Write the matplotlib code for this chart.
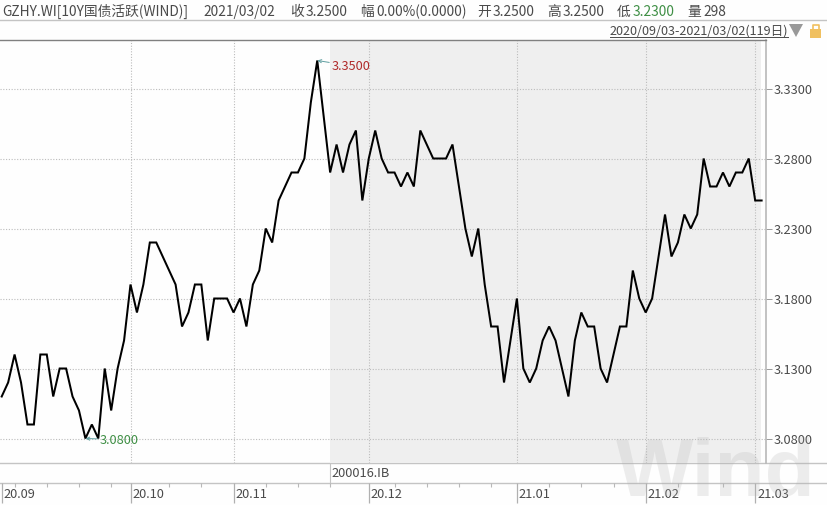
import matplotlib
matplotlib.use('Agg')
import matplotlib.pyplot as plt
from matplotlib.patches import Polygon, Rectangle

plt.rcParams['font.family'] = ['Noto Sans CJK SC', 'DejaVu Sans']

# daily close
values = [3.11, 3.12, 3.14, 3.12, 3.09, 3.09, 3.14, 3.14, 3.11, 3.13,
          3.13, 3.11, 3.10, 3.08, 3.09, 3.08, 3.13, 3.10, 3.13, 3.15,
          3.19, 3.17, 3.19, 3.22, 3.22, 3.21, 3.20, 3.19, 3.16, 3.17,
          3.19, 3.19, 3.15, 3.18, 3.18, 3.18, 3.17, 3.18, 3.16, 3.19,
          3.20, 3.23, 3.22, 3.25, 3.26, 3.27, 3.27, 3.28, 3.32, 3.35,
          3.31, 3.27, 3.29, 3.27, 3.29, 3.30, 3.25, 3.28, 3.30, 3.28,
          3.27, 3.27, 3.26, 3.27, 3.26, 3.30, 3.29, 3.28, 3.28, 3.28,
          3.29, 3.26, 3.23, 3.21, 3.23, 3.19, 3.16, 3.16, 3.12, 3.15,
          3.18, 3.13, 3.12, 3.13, 3.15, 3.16, 3.15, 3.13, 3.11, 3.15,
          3.17, 3.16, 3.16, 3.13, 3.12, 3.14, 3.16, 3.16, 3.20, 3.18,
          3.17, 3.18, 3.21, 3.24, 3.21, 3.22, 3.24, 3.23, 3.24, 3.28,
          3.26, 3.26, 3.27, 3.26, 3.27, 3.27, 3.28, 3.25, 3.25]
y_ticks = [3.08, 3.13, 3.18, 3.23, 3.28, 3.33]
month_idx = [0, 20, 36, 57, 80, 100, 117]
month_labels = ['20.09', '20.10', '20.11', '20.12', '21.01', '21.02', '21.03']
minor_idx = [2, 7, 12, 17, 26, 31, 41, 46, 51, 61, 66, 71, 76, 85, 90, 95, 105, 112]
shade_start = 51
max_idx = 49
min_idx = 13

W, H = 827, 506
GRAY = '#4a4a4a'
FS = 9.2
fig = plt.figure(figsize=(W / 100, H / 100), dpi=100, facecolor='#fefefe')

# pixel overlay for the terminal chrome
bg = fig.add_axes([0, 0, 1, 1], zorder=0)
bg.set_xlim(0, W)
bg.set_ylim(H, 0)
bg.axis('off')

L, R, T, B = 0, 765.5, 41, 464
ax = fig.add_axes([L / W, 1 - B / H, (R - L) / W, (B - T) / H], zorder=1)
ax.patch.set_alpha(0)
ax.set_xlim((L - 1.7) / 6.44, (R - 1.7) / 6.44)
ax.set_ylim(3.08 + (439.5 - B) / 1400, 3.08 + (439.5 - T) / 1400)

ax.axvspan(shade_start + 0.05, (761 - 1.7) / 6.44, color='#efefef', lw=0, zorder=0)
ax.grid(False)
for v in y_ticks:
    ax.axhline(v, color='#bcbcbc', lw=0.8, ls=(0, (1, 1.5)), zorder=1)
for i in month_idx[1:]:
    ax.axvline(i, color='#bcbcbc', lw=0.8, ls=(0, (1, 1.5)), zorder=1)
ax.plot(range(len(values)), values, color='black', lw=1.45, zorder=3,
        solid_joinstyle='miter')

for s in ['left', 'bottom']:
    ax.spines[s].set_visible(False)
ax.spines['top'].set_color('#808080')
ax.spines['top'].set_linewidth(1.0)
ax.spines['right'].set_color('#b8b8b8')
ax.spines['right'].set_linewidth(1.2)
ax.set_xticks([])
ax.yaxis.tick_right()
ax.set_yticks(y_ticks)
ax.set_yticklabels(['%.4f' % v for v in y_ticks], color=GRAY, fontsize=FS,
                   va='center_baseline')
ax.tick_params(axis='y', length=4.5, width=0.7, color='#9a9a9a', pad=1.5)

# high / low markers
ax.annotate('3.3500', xy=(max_idx, values[max_idx]), xytext=(332, H - 67),
            textcoords='figure pixels', color='#b02a2a', fontsize=FS, va='center',
            arrowprops=dict(arrowstyle='->,head_length=0.25,head_width=0.12',
                            color='#5f9ea0', lw=0.7, shrinkA=0, shrinkB=0))
ax.annotate('3.0800', xy=(min_idx, values[min_idx]), xytext=(100, H - 440.5),
            textcoords='figure pixels', color='#3f8f45', fontsize=FS, va='center',
            arrowprops=dict(arrowstyle='->,head_length=0.25,head_width=0.12',
                            color='#5f9ea0', lw=0.7, shrinkA=0, shrinkB=0))

# date strip under the plot
bg.plot([0, W], [464, 464], color='#c4c4c4', lw=1.0)
bg.plot([0, W], [483.5, 483.5], color='#c4c4c4', lw=1.0)
bg.plot([0, W], [20.5, 20.5], color='#c4c4c4', lw=1.0)
bg.plot([330, 330], [464, 483], color='#c4c4c4', lw=0.8)
bg.text(331, 474, '200016.IB', color=GRAY, fontsize=FS, va='center')

ax2 = fig.add_axes([L / W, 0, (R - L) / W, 1 - 483.5 / H], zorder=1, sharex=ax)
ax2.patch.set_alpha(0)
ax2.set_ylim(22.5, 0)
ax2.axis('off')
ax2.vlines(minor_idx, 0, 4.5, color='#b8b8b8', lw=0.8)
ax2.vlines(month_idx, 0, 20, color='#b0b0b0', lw=0.9)
for i, lab in zip(month_idx, month_labels):
    ax2.annotate(lab, xy=(i, 10.5), xytext=(1.5, -0.5), textcoords='offset points',
                 color=GRAY, fontsize=FS, va='center')

# header line
head = [(2, 'GZHY.WI[10Y国债活跃(WIND)]', GRAY), (203, '2021/03/02', GRAY),
        (290, '收', GRAY), (306, '3.2500', GRAY),
        (360, '幅', GRAY), (376, '0.00%(0.0000)', GRAY),
        (477, '开', GRAY), (493, '3.2500', GRAY),
        (547, '高', GRAY), (563, '3.2500', GRAY),
        (617, '低', GRAY), (633, '3.2300', '#3f8f45'),
        (687, '量', GRAY), (703, '298', GRAY)]
for x, s, c in head:
    bg.text(x, 11.5, s, color=c, fontsize=9.9, va='center')

bg.text(610, 31, '2020/09/03-2021/03/02(119日)', color=GRAY, fontsize=9.1, va='center')
bg.plot([610, 788], [38, 38], color=GRAY, lw=0.7)
bg.add_patch(Polygon([[789, 25], [803, 25], [796, 38]], color='#999999', lw=0))
bg.add_patch(Rectangle((810, 30), 11, 8.5, color='#f0c060', lw=0))
bg.plot([812.5, 812.5, 818.5, 818.5], [30, 26, 26, 30], color='#f0c060', lw=1.2)

# watermark on top of everything
fig.text(616 / W, 1 - 495 / H, 'Wind', family='Liberation Sans', weight='bold',
         fontsize=59, color='#b0b0b0', alpha=0.22, zorder=5, va='baseline')

fig.savefig('out.png', dpi=100, facecolor=fig.get_facecolor())
